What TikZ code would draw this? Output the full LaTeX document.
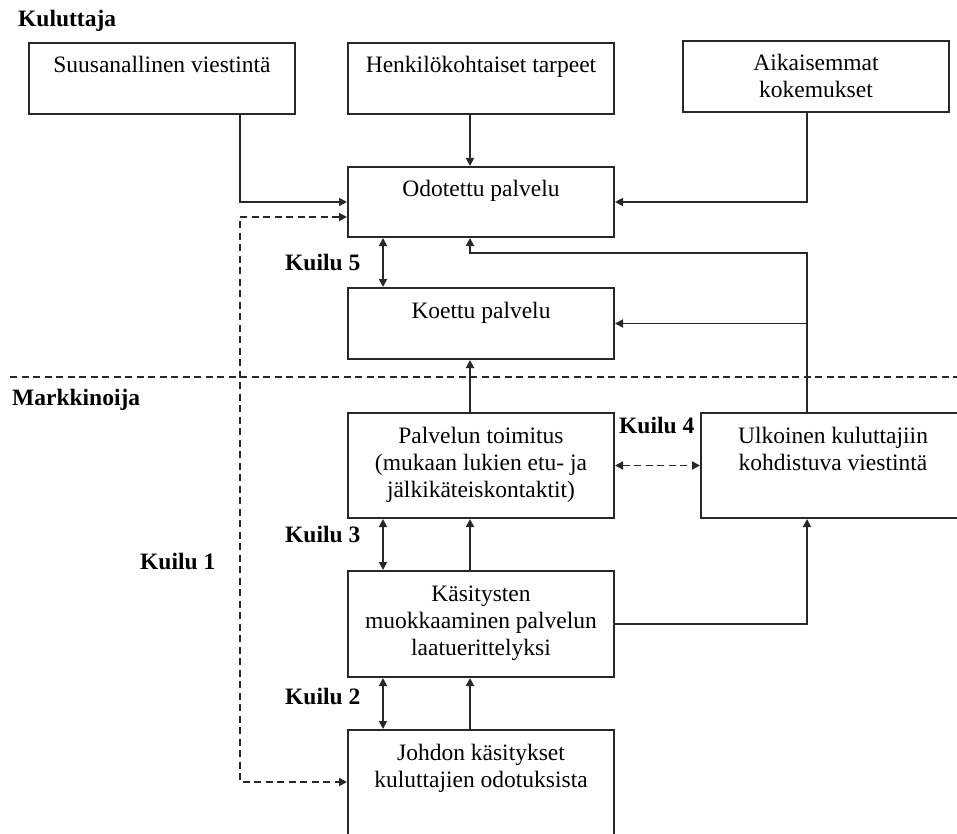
\documentclass[tikz,border=0pt]{standalone}
\usepackage{fontspec}
\setmainfont{Liberation Serif}
\usetikzlibrary{arrows.meta}
\definecolor{lc}{RGB}{40,40,40}
\newcommand\bxt[3]{\parbox[t][#2][t]{#1}{\centering\rule{0pt}{30pt}#3}}
\begin{document}
\begin{tikzpicture}[x=1pt,y=-1pt,
  box/.style={draw=lc, line width=2pt, inner sep=0pt, anchor=north west, text=black, font=\fontsize{23.5}{27}\selectfont},
  lbl/.style={anchor=base west, inner sep=0pt, text=black, font=\fontsize{23.5}{27}\selectfont\bfseries},
  link/.style={draw=lc, line width=1.8pt},
  conn/.style={link, -{Triangle[length=8pt,width=8pt]}},
  both/.style={link, {Triangle[length=8pt,width=8pt]}-{Triangle[length=8pt,width=8pt]}},
  dsh/.style={dash pattern=on 7pt off 4.5pt}]
\fill[white] (0,0) rectangle (957,834);
\useasboundingbox (0,0) rectangle (957,834);

% guides
\coordinate (xL) at (240,0);
\coordinate (xK) at (383,0);
\coordinate (xM) at (470,0);
\coordinate (xR) at (807,0);
\coordinate (ytop) at (0,253);
\coordinate (dtop) at (240,217);
\coordinate (dbot) at (240,782);
\coordinate (s1) at (10,377);
\coordinate (s2) at (957,377);

% separator
\draw[link,dsh] (s1) -- (s2);

% labels
\node[lbl] (kul) at (18,27) {Kuluttaja};
\node[lbl] (mar) at (12,405) {Markkinoija};
\node[lbl] (k5) at (285,270) {Kuilu 5};
\node[lbl] (k4) at (619,433) {Kuilu 4};
\node[lbl] (k3) at (285,542) {Kuilu 3};
\node[lbl] (k2) at (285,704) {Kuilu 2};
\node[lbl] (k1) at (140,569) {Kuilu 1};

% boxes
\node[box] (suu) at (28,42) {\bxt{266pt}{71pt}{Suusanallinen viestintä}};
\node[box] (hen) at (347,42) {\bxt{266pt}{71pt}{Henkilökohtaiset tarpeet}};
\node[box] (aik) at (682,40) {\bxt{266pt}{71pt}{Aikaisemmat\\kokemukset}};
\node[box] (odo) at (347,166) {\bxt{266pt}{70pt}{Odotettu palvelu}};
\node[box] (koe) at (347,287) {\bxt{266pt}{71pt}{Koettu palvelu}};
\node[box] (pal) at (347,412) {\bxt{266pt}{105pt}{Palvelun toimitus\\(mukaan lukien etu- ja\\jälkikäteiskontaktit)}};
\node[box] (ulk) at (700,412) {\bxt{264pt}{105pt}{Ulkoinen kuluttajiin\\kohdistuva viestintä}};
\node[box] (kas) at (347,570) {\bxt{266pt}{106pt}{Käsitysten\\muokkaaminen palvelun\\laatuerittelyksi}};
\node[box] (joh) at (347,729) {\bxt{266pt}{113pt}{Johdon käsitykset\\kuluttajien odotuksista}};

% connectors
\draw[conn] (suu.south -| xL) |- (odo.west);
\draw[conn] (hen.south -| xM) -- (odo.north -| xM);
\draw[conn] (aik.south -| xR) |- (odo.east);
\draw[both,dsh] (odo.west |- dtop) -| (dbot) -- (joh.west |- dbot);
\draw[both] (odo.south -| xK) -- (koe.north -| xK);
\draw[conn] (ulk.north -| xR) -- (xR |- ytop) -| (odo.south -| xM);
\draw[conn] (xR |- koe.east) -- (koe.east);
\draw[conn] (pal.north -| xM) -- (koe.south -| xM);
\draw[both,dsh] (pal.east) -- (ulk.west);
\draw[both] (pal.south -| xK) -- (kas.north -| xK);
\draw[conn] (kas.north -| xM) -- (pal.south -| xM);
\draw[conn] (kas.east) -| (ulk.south -| xR);
\draw[both] (kas.south -| xK) -- (joh.north -| xK);
\draw[conn] (joh.north -| xM) -- (kas.south -| xM);
\end{tikzpicture}
\end{document}
